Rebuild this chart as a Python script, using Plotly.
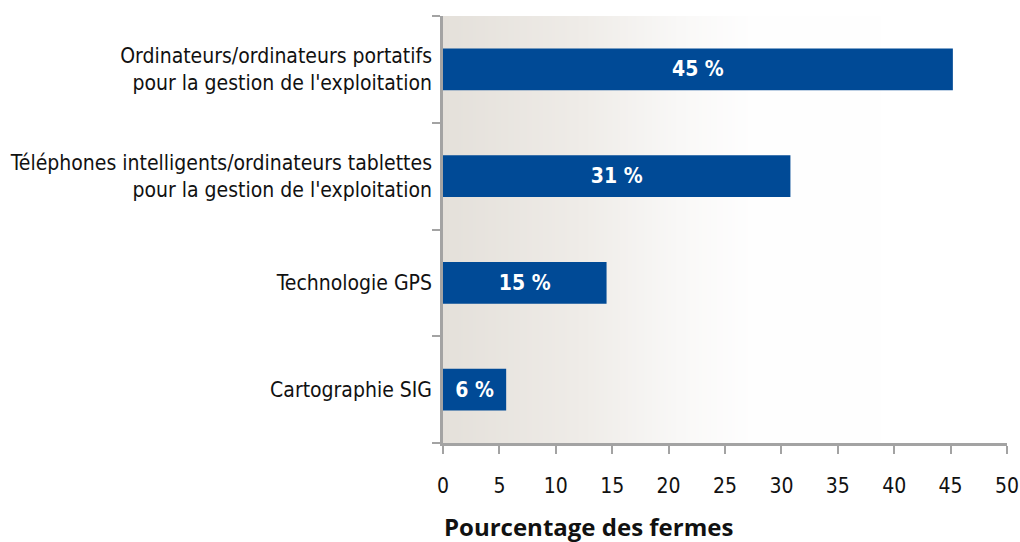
import plotly.graph_objects as go

categories = [
    "Ordinateurs/ordinateurs portatifs<br>pour la gestion de l'exploitation",
    "Téléphones intelligents/ordinateurs tablettes<br>pour la gestion de l'exploitation",
    "Technologie GPS",
    "Cartographie SIG",
]
values = [45.2, 30.8, 14.5, 5.6]
bar_labels = ["45 %", "31 %", "15 %", "6 %"]
x_ticks = [0, 5, 10, 15, 20, 25, 30, 35, 40, 45, 50]

positions = list(range(len(categories)))
boundaries = [p - 0.5 for p in positions] + [positions[-1] + 0.5]

FONT = "Liberation Sans Narrow, DejaVu Sans Condensed, sans-serif"
AXIS_COLOR = "#A3A3A3"
BAR_COLOR = "#004A96"

fig = go.Figure()

# background gradient of plot area
fig.add_trace(go.Heatmap(
    z=[[0, 1], [0, 1]],
    x=[x_ticks[0], x_ticks[-1]],
    y=[boundaries[0], boundaries[-1]],
    zsmooth="best",
    colorscale=[[0, "#E4E0DA"], [0.25, "#EFECE8"], [0.42, "#F9F8F7"], [0.55, "#FEFEFE"], [1, "#FFFFFF"]],
    showscale=False,
    hoverinfo="skip",
    xaxis="x", yaxis="y",
))

fig.add_trace(go.Bar(
    x=values,
    y=positions,
    orientation="h",
    marker=dict(color=BAR_COLOR, line=dict(width=0)),
    text=bar_labels,
    textposition="inside",
    insidetextanchor="middle",
    textangle=0,
    textfont=dict(family=FONT, size=21, color="white", weight="bold"),
    width=0.39,
    xaxis="x", yaxis="y2",
    hoverinfo="skip",
))

fig.update_layout(
    width=1020, height=542,
    margin=dict(l=443, r=13, t=16, b=99),
    paper_bgcolor="white",
    plot_bgcolor="white",
    showlegend=False,
    font=dict(family=FONT, size=21, color="#111111"),
    xaxis=dict(
        range=[x_ticks[0], x_ticks[-1]],
        tickvals=x_ticks,
        ticks="outside", ticklen=8, tickwidth=2, tickcolor=AXIS_COLOR,
        showline=True, linecolor=AXIS_COLOR, linewidth=2.5,
        showgrid=False, zeroline=False,
        tickfont=dict(family=FONT, size=21, color="#111111"),
        ticklabelstandoff=14,
        automargin=False,
        fixedrange=True,
    ),
    yaxis=dict(
        range=[boundaries[-1], boundaries[0]],
        tickvals=positions,
        ticktext=categories,
        ticks="",
        showline=False,
        showgrid=False, zeroline=False,
        tickfont=dict(family=FONT, size=21, color="#111111"),
        ticklabelstandoff=10,
        automargin=False,
        fixedrange=True,
    ),
    yaxis2=dict(
        range=[boundaries[-1], boundaries[0]],
        overlaying="y",
        side="left",
        tickvals=boundaries,
        showticklabels=False,
        ticks="outside", ticklen=8, tickwidth=2, tickcolor=AXIS_COLOR,
        showline=True, linecolor=AXIS_COLOR, linewidth=2.5,
        showgrid=False, zeroline=False,
        automargin=False,
        fixedrange=True,
    ),
    annotations=[dict(
        text="Pourcentage des fermes",
        xref="paper", yref="paper",
        x=(588 - 443) / (1007 - 443), y=-0.195,
        xanchor="center", yanchor="middle",
        showarrow=False,
        font=dict(family="Open Sans, sans-serif", size=24, color="#111111", weight="bold"),
    )],
)

fig.write_html(
    "out.html",
    config={"displayModeBar": False},
    post_script="document.body.style.margin='0';document.body.style.overflow='hidden';",
)
